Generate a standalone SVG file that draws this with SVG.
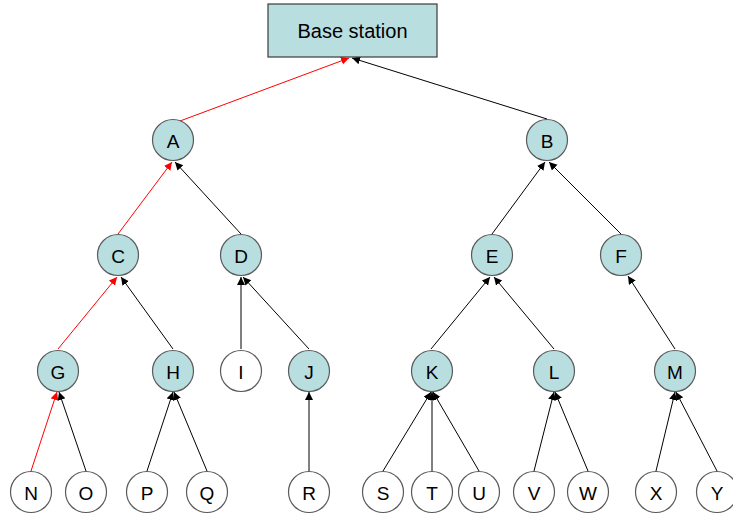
<svg xmlns="http://www.w3.org/2000/svg" width="733" height="515" viewBox="0 0 733 515">
<style>
  .n circle { stroke: #5a5a5a; stroke-width: 1.2; }
  .f circle { fill: #b8dee0; }
  .w circle { fill: #ffffff; }
  text { font-family: "Liberation Sans", Arial, sans-serif; font-size: 19px; fill: #000; text-anchor: middle; dominant-baseline: central; }
  .e { stroke: #000; stroke-width: 1; fill: none; marker-end: url(#ab); }
  .r { stroke: #ff0000; stroke-width: 1; fill: none; marker-end: url(#ar); }
</style>
<defs>
  <marker id="ab" markerUnits="userSpaceOnUse" markerWidth="10" markerHeight="10" refX="8" refY="4" orient="auto">
    <path d="M0,0 L8,4 L0,8 Z" fill="#000"/>
  </marker>
  <marker id="ar" markerUnits="userSpaceOnUse" markerWidth="10" markerHeight="10" refX="8" refY="4" orient="auto">
    <path d="M0,0 L8,4 L0,8 Z" fill="#ff0000"/>
  </marker>
</defs>
<rect width="733" height="515" fill="#fff"/>
<g id="connectors">
  <line class="r" x1="180" y1="121" x2="349" y2="58"/>
  <line class="e" x1="547" y1="119" x2="352" y2="58"/>
  <line class="r" x1="118" y1="234" x2="172" y2="162"/>
  <line class="e" x1="241" y1="234" x2="175" y2="162"/>
  <line class="e" x1="492" y1="234" x2="545" y2="162"/>
  <line class="e" x1="621" y1="234" x2="549" y2="162"/>
  <line class="r" x1="58" y1="349" x2="117" y2="277"/>
  <line class="e" x1="173" y1="349" x2="121" y2="277"/>
  <line class="e" x1="241" y1="349" x2="241" y2="277"/>
  <line class="e" x1="309" y1="349" x2="243" y2="277"/>
  <line class="e" x1="431" y1="349" x2="490" y2="277"/>
  <line class="e" x1="554" y1="349" x2="494" y2="277"/>
  <line class="e" x1="675" y1="349" x2="628" y2="276"/>
  <line class="r" x1="31" y1="471" x2="57" y2="392"/>
  <line class="e" x1="86" y1="471" x2="59" y2="392"/>
  <line class="e" x1="147" y1="471" x2="173" y2="392"/>
  <line class="e" x1="207" y1="471" x2="174" y2="392"/>
  <line class="e" x1="309" y1="471" x2="309" y2="392"/>
  <line class="e" x1="383" y1="471" x2="431" y2="392"/>
  <line class="e" x1="432" y1="471" x2="432" y2="392"/>
  <line class="e" x1="479" y1="471" x2="433" y2="392"/>
  <line class="e" x1="534" y1="471" x2="554" y2="392"/>
  <line class="e" x1="588" y1="471" x2="555" y2="392"/>
  <line class="e" x1="656" y1="471" x2="675" y2="392"/>
  <line class="e" x1="717" y1="471" x2="676" y2="392"/>
</g>
<g id="base">
  <rect x="268" y="4" width="169" height="53" fill="#b8dee0" stroke="#3a3a3a" stroke-width="1.2"/>
  <text x="352.5" y="31" style="font-size:20px">Base station</text>
</g>
<g id="A" class="n f"><circle cx="173" cy="140" r="20.5"/><text x="173" y="141">A</text></g>
<g id="B" class="n f"><circle cx="547" cy="140" r="20.5"/><text x="547" y="141">B</text></g>
<g id="C" class="n f"><circle cx="118" cy="255" r="20.5"/><text x="118" y="256">C</text></g>
<g id="D" class="n f"><circle cx="241" cy="255" r="20.5"/><text x="241" y="256">D</text></g>
<g id="E" class="n f"><circle cx="492" cy="255" r="20.5"/><text x="492" y="256">E</text></g>
<g id="F" class="n f"><circle cx="621" cy="255" r="20.5"/><text x="621" y="256">F</text></g>
<g id="G" class="n f"><circle cx="58" cy="371" r="20.5"/><text x="58" y="372">G</text></g>
<g id="H" class="n f"><circle cx="173" cy="371" r="20.5"/><text x="173" y="372">H</text></g>
<g id="I" class="n w"><circle cx="241" cy="371" r="20.5"/><text x="241" y="372">I</text></g>
<g id="J" class="n f"><circle cx="309" cy="371" r="20.5"/><text x="309" y="372">J</text></g>
<g id="K" class="n f"><circle cx="432" cy="371" r="20.5"/><text x="432" y="372">K</text></g>
<g id="L" class="n f"><circle cx="554" cy="371" r="20.5"/><text x="554" y="372">L</text></g>
<g id="M" class="n f"><circle cx="675" cy="371" r="20.5"/><text x="675" y="372">M</text></g>
<g id="N" class="n w"><circle cx="31" cy="492" r="20.5"/><text x="31" y="493">N</text></g>
<g id="O" class="n w"><circle cx="86" cy="492" r="20.5"/><text x="86" y="493">O</text></g>
<g id="P" class="n w"><circle cx="147" cy="492" r="20.5"/><text x="147" y="493">P</text></g>
<g id="Q" class="n w"><circle cx="207" cy="492" r="20.5"/><text x="207" y="493">Q</text></g>
<g id="R" class="n w"><circle cx="309" cy="492" r="20.5"/><text x="309" y="493">R</text></g>
<g id="S" class="n w"><circle cx="383" cy="492" r="20.5"/><text x="383" y="493">S</text></g>
<g id="T" class="n w"><circle cx="432" cy="492" r="20.5"/><text x="432" y="493">T</text></g>
<g id="U" class="n w"><circle cx="479" cy="492" r="20.5"/><text x="479" y="493">U</text></g>
<g id="V" class="n w"><circle cx="534" cy="492" r="20.5"/><text x="534" y="493">V</text></g>
<g id="W" class="n w"><circle cx="588" cy="492" r="20.5"/><text x="588" y="493">W</text></g>
<g id="X" class="n w"><circle cx="656" cy="492" r="20.5"/><text x="656" y="493">X</text></g>
<g id="Y" class="n w"><circle cx="717" cy="492" r="20.5"/><text x="717" y="493">Y</text></g>
</svg>
